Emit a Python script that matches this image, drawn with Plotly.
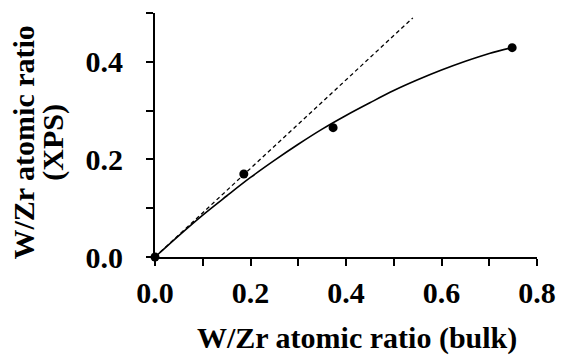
import plotly.graph_objects as go

# measured points
x_pts = [0.0, 0.186, 0.373, 0.748]
y_pts = [0.0, 0.170, 0.265, 0.429]

# fitted curve
x_fit = [0.0, 0.05, 0.1, 0.15, 0.2, 0.25, 0.3, 0.35, 0.4, 0.45, 0.5, 0.55, 0.6, 0.65, 0.7, 0.748]
y_fit = [0.0, 0.044, 0.086, 0.125, 0.163, 0.198, 0.231, 0.262, 0.290, 0.316, 0.341, 0.363, 0.383, 0.401, 0.417, 0.429]

# dashed reference line
x_dash = [0.0, 0.54]
y_dash = [0.0, 0.49]

x_ticks = [0.0, 0.1, 0.2, 0.3, 0.4, 0.5, 0.6, 0.7, 0.8]
x_labels = ["0.0", "", "0.2", "", "0.4", "", "0.6", "", "0.8"]
y_ticks = [0.0, 0.1, 0.2, 0.3, 0.4, 0.5]
y_labels = ["0.0", "", "0.2", "", "0.4", ""]

x_title = "W/Zr atomic ratio (bulk)"
y_title_1 = "W/Zr atomic ratio"
y_title_2 = "(XPS)"

FONT = "Liberation Serif, Times New Roman, Times, serif"

fig = go.Figure()
fig.add_trace(go.Scatter(x=x_dash, y=y_dash, mode="lines",
                         line=dict(color="black", width=1.3, dash="4px,3px"),
                         showlegend=False, hoverinfo="skip"))
fig.add_trace(go.Scatter(x=x_fit, y=y_fit, mode="lines",
                         line=dict(color="black", width=1.6, shape="spline"),
                         showlegend=False))
fig.add_trace(go.Scatter(x=x_pts, y=y_pts, mode="markers",
                         marker=dict(color="black", size=9),
                         cliponaxis=False, showlegend=False))

axis_common = dict(showgrid=False, zeroline=False, showline=True, linecolor="black",
                   linewidth=2, ticks="outside", ticklen=7, tickwidth=2, tickcolor="black",
                   automargin=False,
                   tickfont=dict(family=FONT, size=30, color="black", weight="bold"))

fig.update_xaxes(range=[0, 0.8], tickmode="array", tickvals=x_ticks, ticktext=x_labels,
                 ticklabelstandoff=1, **axis_common)
fig.update_yaxes(range=[0, 0.5], tickmode="array", tickvals=y_ticks, ticktext=y_labels,
                 ticklabelstandoff=17, **axis_common)

fig.add_annotation(text="<b>" + x_title + "</b>", xref="paper", yref="paper",
                   x=0.529, y=-0.333, showarrow=False,
                   xanchor="center", yanchor="middle",
                   font=dict(family=FONT, size=30, color="black"))
fig.add_annotation(text="<b>" + y_title_1 + "</b>", xref="paper", yref="paper",
                   x=-0.345, y=0.47, textangle=-90, showarrow=False,
                   xanchor="center", yanchor="middle",
                   font=dict(family=FONT, size=30, color="black"))
fig.add_annotation(text="<b>" + y_title_2 + "</b>", xref="paper", yref="paper",
                   x=-0.266, y=0.47, textangle=-90, showarrow=False,
                   xanchor="center", yanchor="middle",
                   font=dict(family=FONT, size=30, color="black"))

fig.update_layout(width=563, height=356, margin=dict(l=155, r=26, t=13, b=99),
                  plot_bgcolor="white", paper_bgcolor="white",
                  font=dict(family=FONT, color="black"))

fig.write_html("out.html", config={"displayModeBar": False},
               post_script="document.body.style.margin='0';document.body.style.padding='0';")
